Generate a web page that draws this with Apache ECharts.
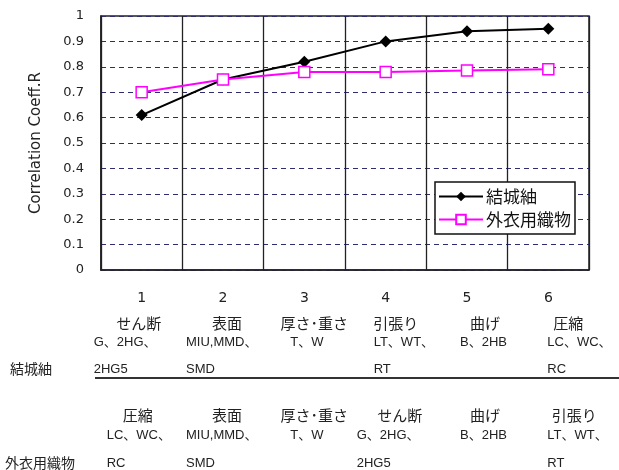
<!DOCTYPE html>
<html>
<head>
<meta charset="utf-8">
<script src="https://cdn.jsdelivr.net/npm/echarts@6/dist/echarts.min.js"></script>
<style>
  html, body { margin: 0; padding: 0; background: #fff; }
  #main { width: 619px; height: 470px; }
</style>
</head>
<body>
<div id="main"></div>
<script>
// カテゴリ番号
var catNums = ['1', '2', '3', '4', '5', '6'];
// 系列の値
var yuukiTsumugi = [0.61, 0.75, 0.82, 0.90, 0.94, 0.95];
var gaiiOrimono = [0.70, 0.75, 0.78, 0.78, 0.785, 0.79];
var seriesNames = ['結城紬', '外衣用織物'];
// 表の中身
var names1 = ['せん断', '表面', '厚さ･重さ', '引張り', '曲げ', '圧縮'];
var codes1 = [['G、2HG、', '2HG5'], ['MIU,MMD、', 'SMD'], ['T、W', ''], ['LT、WT、', 'RT'], ['B、2HB', ''], ['LC、WC、', 'RC']];
var names2 = ['圧縮', '表面', '厚さ･重さ', 'せん断', '曲げ', '引張り'];
var codes2 = [['LC、WC、', 'RC'], ['MIU,MMD、', 'SMD'], ['T、W', ''], ['G、2HG、', '2HG5'], ['B、2HB', ''], ['LT、WT、', 'RT']];

var chart = echarts.init(document.getElementById('main'));

var option = {
  animation: false,
  grid: {
    left: 101, right: 30, top: 16, bottom: 200,
    show: true, borderColor: '#222', borderWidth: 1.5
  },
  legend: {
    orient: 'vertical',
    left: 435, top: 182,
    padding: [6, 4, 6, 3],
    itemGap: 6,
    itemWidth: 44, itemHeight: 12,
    backgroundColor: '#fff',
    borderColor: '#111', borderWidth: 1.5,
    textStyle: { fontFamily: 'Noto Sans CJK JP', fontSize: 17, color: '#111', padding: [0, 0, 0, -2] },
    data: seriesNames
  },
  xAxis: {
    type: 'category',
    data: catNums,
    boundaryGap: true,
    axisLine: { lineStyle: { color: '#222', width: 1.5 } },
    axisTick: { show: false },
    splitLine: { show: true, lineStyle: { color: '#222', width: 1.3 } },
    axisLabel: { margin: 21, fontSize: 14, color: '#222', fontFamily: 'DejaVu Sans' }
  },
  yAxis: {
    type: 'value',
    min: 0, max: 1, interval: 0.1,
    name: 'Correlation Coeff.R',
    nameLocation: 'middle',
    nameGap: 57,
    nameTextStyle: { fontFamily: 'DejaVu Sans', fontSize: 15, color: '#222' },
    axisLine: { show: true, lineStyle: { color: '#222', width: 1.5 } },
    axisTick: { show: false },
    axisLabel: { margin: 17, fontSize: 13, color: '#222', fontFamily: 'DejaVu Sans' },
    splitLine: { show: true, lineStyle: { color: '#2d2d70', type: [5, 4], width: 1.2 } }
  },
  series: [
    {
      name: seriesNames[0],
      type: 'line',
      data: yuukiTsumugi,
      symbol: 'diamond',
      symbolSize: 12,
      itemStyle: { color: '#000' },
      lineStyle: { color: '#000', width: 2 }
    },
    {
      name: seriesNames[1],
      type: 'line',
      data: gaiiOrimono,
      symbol: 'rect',
      symbolSize: 11,
      itemStyle: { color: '#fff', borderColor: '#ff00ff', borderWidth: 1.5 },
      lineStyle: { color: '#ff00ff', width: 2 }
    }
  ]
};
chart.setOption(option);

// 表のテキストを軸の位置から配置
var jp = '15px "Noto Sans CJK JP"';
var code = '13px "Liberation Sans", "Noto Sans CJK JP"';
var name1Dx = [-3, 4, 10, 10, 18, 20];
var name2Dx = [-4, 4, 10, 14, 18, 26];
var code1Dx = [-48, -37, -14, -12, -7, -1];
var code2Dx = [-35, -37, -14, -29, -7, -1];

function txt(x, y, s, font, align) {
  return {
    type: 'text', x: x, y: y, silent: true,
    style: { text: s, font: font, fill: '#222', align: align, verticalAlign: 'middle' }
  };
}

var g = [];
catNums.forEach(function (c, i) {
  var cx = chart.convertToPixel({ xAxisIndex: 0 }, i);
  g.push(txt(cx + name1Dx[i], 323, names1[i], jp, 'center'));
  g.push(txt(cx + code1Dx[i], 342, codes1[i][0], code, 'left'));
  g.push(txt(cx + code1Dx[i], 369, codes1[i][1], code, 'left'));
  g.push(txt(cx + name2Dx[i], 415, names2[i], jp, 'center'));
  g.push(txt(cx + code2Dx[i], 435, codes2[i][0], code, 'left'));
  g.push(txt(cx + code2Dx[i], 463, codes2[i][1], code, 'left'));
});
g.push(txt(10, 369, seriesNames[0], '14px "Noto Sans CJK JP"', 'left'));
g.push(txt(5, 463, seriesNames[1], '14px "Noto Sans CJK JP"', 'left'));
g.push({
  type: 'line', silent: true,
  shape: { x1: 95, y1: 378, x2: 619, y2: 378 },
  style: { stroke: '#333', lineWidth: 2 }
});
chart.setOption({ graphic: g });
</script>
</body>
</html>
